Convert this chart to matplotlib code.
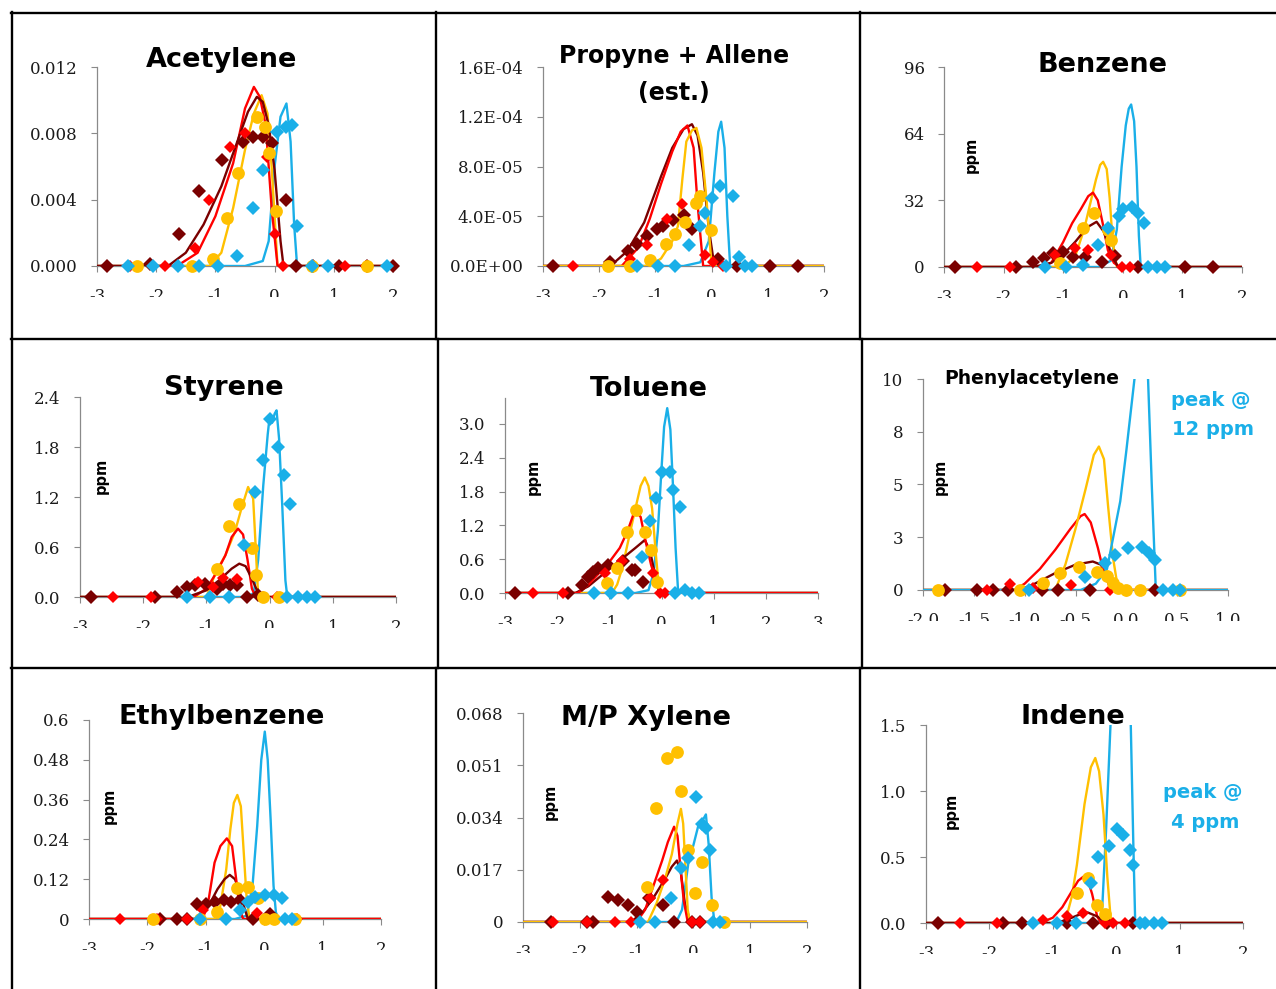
import matplotlib
matplotlib.use('Agg')
import matplotlib.pyplot as plt
from matplotlib.lines import Line2D
from matplotlib.transforms import Bbox

plt.rcParams['axes.unicode_minus'] = False

# ---------------- DATA ----------------
# Acetylene
ace_dr_lx = [-3, -1.8, -1.5, -1.2, -0.9, -0.6, -0.45, -0.3, -0.2, -0.1, 0.0, 0.1, 0.15, 2]
ace_dr_ly = [0, 0, 0.0008, 0.0025, 0.0048, 0.0078, 0.0093, 0.0102, 0.0099, 0.0085, 0.0058, 0.0015, 0, 0]
ace_rd_lx = [-3, -1.65, -1.3, -1.0, -0.7, -0.5, -0.35, -0.25, -0.15, -0.05, 0.05, 2]
ace_rd_ly = [0, 0, 0.0008, 0.0030, 0.0062, 0.0095, 0.0108, 0.0102, 0.0085, 0.0035, 0, 0]
ace_gd_lx = [-3, -1.1, -0.9, -0.7, -0.5, -0.35, -0.22, -0.12, -0.05, 0.05, 2]
ace_gd_ly = [0, 0, 0.0008, 0.0035, 0.0070, 0.0092, 0.0103, 0.0092, 0.0060, 0, 0]
ace_bl_lx = [-3, -0.5, -0.2, -0.1, 0.0, 0.1, 0.2, 0.27, 0.33, 0.38, 2]
ace_bl_ly = [0, 0, 0.0003, 0.0015, 0.0060, 0.0090, 0.0098, 0.0075, 0.0025, 0, 0]
ace_dr_mx = [-2.83, -2.10, -1.61, -1.27, -0.89, -0.53, -0.36, -0.19, -0.05, 0.19, 0.36, 0.65, 1.08, 1.56, 2.0]
ace_dr_my = [0, 0.0001, 0.0019, 0.0045, 0.0064, 0.0075, 0.0078, 0.0078, 0.0074, 0.0040, 0, 0, 0, 0, 0]
ace_rd_mx = [-2.44, -1.85, -1.34, -1.10, -0.75, -0.50, -0.13, 0.0, 0.15, 0.63, 0.91, 1.19, 1.54]
ace_rd_my = [0, 0, 0.0011, 0.0040, 0.0072, 0.0080, 0.0066, 0.0019, 0, 0, 0, 0, 0]
ace_gd_mx = [-2.33, -1.40, -1.04, -0.80, -0.62, -0.30, -0.16, -0.09, 0.02, 0.63, 1.56]
ace_gd_my = [0, 0, 0.0004, 0.0029, 0.0056, 0.0090, 0.0084, 0.0068, 0.0033, 0, 0]
ace_bl_mx = [-2.47, -2.05, -1.63, -1.27, -0.95, -0.64, -0.36, -0.19, 0.04, 0.20, 0.30, 0.37, 0.63, 0.91, 1.9]
ace_bl_my = [0, 0, 0, 0, 0, 0.0006, 0.0035, 0.0058, 0.0081, 0.0084, 0.0085, 0.0024, 0, 0, 0]

# Propyne + Allene
pro_dr_lx = [-3, -1.8, -1.5, -1.2, -0.9, -0.7, -0.5, -0.35, -0.25, -0.15, -0.05, 0.05, 2]
pro_dr_ly = [0, 0, 0.12e-4, 0.35e-4, 0.72e-4, 0.95e-4, 1.10e-4, 1.14e-4, 1.05e-4, 0.75e-4, 0.30e-4, 0, 0]
pro_rd_lx = [-3, -1.6, -1.3, -1.1, -0.9, -0.7, -0.55, -0.43, -0.32, -0.25, -0.15, 2]
pro_rd_ly = [0, 0, 0.15e-4, 0.38e-4, 0.66e-4, 0.92e-4, 1.08e-4, 1.13e-4, 0.95e-4, 0.5e-4, 0, 0]
pro_gd_lx = [-3, -1.1, -0.9, -0.7, -0.6, -0.52, -0.45, -0.35, -0.27, -0.18, -0.09, 0.0, 2]
pro_gd_ly = [0, 0, 0.06e-4, 0.2e-4, 0.32e-4, 0.7e-4, 1.0e-4, 1.09e-4, 1.11e-4, 0.95e-4, 0.53e-4, 0, 0]
pro_bl_lx = [-3, -0.5, -0.2, -0.05, 0.05, 0.12, 0.17, 0.23, 0.28, 0.33, 2]
pro_bl_ly = [0, 0, 0.03e-4, 0.2e-4, 0.75e-4, 1.08e-4, 1.16e-4, 0.95e-4, 0.4e-4, 0, 0]
pro_dr_mx = [-2.83, -1.81, -1.48, -1.33, -1.15, -0.98, -0.86, -0.68, -0.50, -0.35, 0.12, 0.45, 1.04, 1.54]
pro_dr_my = [0, 0.035e-4, 0.12e-4, 0.18e-4, 0.24e-4, 0.30e-4, 0.32e-4, 0.37e-4, 0.41e-4, 0.30e-4, 0.06e-4, 0, 0, 0]
pro_rd_mx = [-2.46, -1.45, -1.15, -0.80, -0.53, -0.12, 0.03, 0.21]
pro_rd_my = [0, 0.06e-4, 0.17e-4, 0.38e-4, 0.50e-4, 0.09e-4, 0.035e-4, 0]
pro_gd_mx = [-1.84, -1.45, -1.10, -0.81, -0.65, -0.47, -0.27, -0.21, -0.01]
pro_gd_my = [0, 0, 0.05e-4, 0.18e-4, 0.26e-4, 0.35e-4, 0.51e-4, 0.56e-4, 0.29e-4]
pro_bl_mx = [-1.32, -0.95, -0.65, -0.41, -0.21, -0.12, 0.0, 0.15, 0.26, 0.38, 0.48, 0.59, 0.71]
pro_bl_my = [0, 0, 0, 0.17e-4, 0.32e-4, 0.43e-4, 0.55e-4, 0.64e-4, 0, 0.56e-4, 0.075e-4, 0, 0]

# Benzene
ben_dr_lx = [-3, -1.5, -1.2, -1.0, -0.8, -0.6, -0.44, -0.32, -0.2, -0.08, 2]
ben_dr_ly = [0, 0, 2, 6, 12, 19, 21.7, 17, 7, 0, 0]
ben_rd_lx = [-3, -1.4, -1.2, -1.0, -0.85, -0.7, -0.58, -0.5, -0.42, -0.33, -0.25, -0.15, -0.05, 2]
ben_rd_ly = [0, 0, 2, 12, 21, 28, 34, 35.7, 32, 20, 8, 2, 0, 0]
ben_gd_lx = [-3, -1.0, -0.8, -0.65, -0.55, -0.45, -0.38, -0.33, -0.27, -0.22, -0.17, -0.1, 2]
ben_gd_ly = [0, 0, 5, 18, 30, 42, 49, 50.5, 47, 33, 12, 0, 0]
ben_bl_lx = [-3, -0.4, -0.2, -0.1, -0.02, 0.05, 0.10, 0.14, 0.19, 0.23, 0.27, 0.30, 2]
ben_bl_ly = [0, 0, 3, 18, 48, 68, 76, 78, 70, 48, 15, 0, 0]
ben_dr_mx = [-2.82, -1.80, -1.50, -1.33, -1.17, -1.0, -0.83, -0.63, -0.35, -0.13, 0.26, 1.04, 1.52]
ben_dr_my = [0, 0, 2.5, 4.2, 6.6, 7.4, 4.9, 4.9, 2.5, 5.3, 0, 0, 0]
ben_rd_mx = [-2.45, -1.89, -1.14, -0.80, -0.58, -0.19, -0.02, 0.12]
ben_rd_my = [0, 0, 5.8, 9.0, 8.2, 5.8, 0, 0]
ben_gd_mx = [-1.05, -0.66, -0.48, -0.25, -0.19]
ben_gd_my = [1.8, 18.9, 25.8, 17.8, 13.0]
ben_bl_mx = [-1.31, -0.96, -0.66, -0.41, -0.24, -0.07, 0.01, 0.15, 0.26, 0.36, 0.43, 0.57, 0.71]
ben_bl_my = [0, 0, 1, 10.6, 18.6, 24.5, 27.7, 28.6, 25.8, 21.3, 0, 0, 0]

# Styrene
sty_dr_lx = [-3, -1.3, -1.0, -0.8, -0.6, -0.48, -0.38, -0.28, -0.2, -0.12, 2]
sty_dr_ly = [0, 0, 0.08, 0.2, 0.34, 0.40, 0.37, 0.22, 0.08, 0, 0]
sty_rd_lx = [-3, -1.2, -1.0, -0.85, -0.7, -0.6, -0.5, -0.42, -0.35, -0.28, -0.22, 2]
sty_rd_ly = [0, 0, 0.1, 0.28, 0.5, 0.72, 0.82, 0.75, 0.45, 0.1, 0, 0]
sty_gd_lx = [-3, -1.0, -0.85, -0.7, -0.55, -0.45, -0.34, -0.26, -0.22, -0.18, 2]
sty_gd_ly = [0, 0, 0.3, 0.5, 0.78, 1.05, 1.32, 1.18, 0.6, 0, 0]
sty_bl_lx = [-3, -0.35, -0.25, -0.18, -0.1, -0.03, 0.0, 0.04, 0.08, 0.11, 0.15, 0.2, 0.25, 0.28, 2]
sty_bl_ly = [0, 0, 0.05, 0.45, 1.34, 1.95, 2.16, 2.09, 2.2, 2.24, 1.9, 1.1, 0.2, 0, 0]
sty_dr_mx = [-2.82, -1.81, -1.47, -1.31, -1.18, -1.02, -0.84, -0.73, -0.63, -0.52, -0.36, -0.18]
sty_dr_my = [0, 0, 0.064, 0.12, 0.14, 0.16, 0.10, 0.16, 0.14, 0.14, 0, 0.02]
sty_rd_mx = [-2.47, -1.87, -1.13, -0.89, -0.74, -0.52, -0.10, 0.11]
sty_rd_my = [0, 0, 0.18, 0.12, 0.23, 0.22, 0, 0]
sty_gd_mx = [-0.83, -0.65, -0.48, -0.28, -0.22, -0.10, 0.15]
sty_gd_my = [0.34, 0.85, 1.12, 0.59, 0.27, 0, 0]
sty_bl_mx = [-1.31, -0.95, -0.65, -0.41, -0.23, -0.10, 0.01, 0.14, 0.22, 0.33, 0.27, 0.45, 0.59, 0.72]
sty_bl_my = [0, 0, 0, 0.62, 1.26, 1.64, 2.14, 1.80, 1.46, 1.12, 0, 0, 0, 0]

# Toluene
tol_dr_lx = [-3, -1.65, -1.4, -1.1, -0.9, -0.7, -0.5, -0.32, -0.22, -0.12, -0.04, 3]
tol_dr_ly = [0, 0, 0.12, 0.35, 0.5, 0.65, 0.8, 0.94, 0.75, 0.3, 0, 0]
tol_rd_lx = [-3, -1.6, -1.4, -1.2, -1.0, -0.8, -0.65, -0.51, -0.4, -0.3, -0.2, -0.1, 0.0, 3]
tol_rd_ly = [0, 0, 0.15, 0.35, 0.55, 0.8, 1.1, 1.47, 1.35, 0.9, 0.5, 0.2, 0, 0]
tol_gd_lx = [-3, -0.95, -0.85, -0.75, -0.62, -0.5, -0.4, -0.32, -0.25, -0.18, -0.1, -0.04, 3]
tol_gd_ly = [0, 0, 0.15, 0.45, 1.0, 1.5, 1.9, 2.05, 1.9, 1.5, 0.6, 0, 0]
tol_bl_lx = [-3, -0.5, -0.25, -0.15, -0.07, 0.0, 0.05, 0.11, 0.17, 0.22, 0.27, 0.32, 3]
tol_bl_ly = [0, 0, 0.05, 0.35, 1.1, 2.2, 2.95, 3.28, 2.9, 1.9, 0.8, 0, 0]
tol_dr_mx = [-2.81, -1.79, -1.53, -1.40, -1.31, -1.21, -1.02, -0.73, -0.57, -0.51, -0.35]
tol_dr_my = [0, 0, 0.14, 0.29, 0.38, 0.44, 0.50, 0.56, 0.41, 0.41, 0.20]
tol_rd_mx = [-2.46, -1.88, -1.08, -0.76, -0.16, -0.03, 0.07]
tol_rd_my = [0, 0, 0.35, 0.56, 0.35, 0, 0]
tol_gd_mx = [-1.05, -0.86, -0.67, -0.49, -0.32, -0.20, -0.09]
tol_gd_my = [0.17, 0.44, 1.09, 1.47, 1.09, 0.76, 0.20]
tol_bl_mx = [-1.29, -0.96, -0.65, -0.38, -0.22, -0.11, 0.0, 0.16, 0.22, 0.35, 0.26, 0.45, 0.58, 0.72]
tol_bl_my = [0, 0, 0, 0.63, 1.27, 1.68, 2.15, 2.15, 1.83, 1.53, 0, 0.05, 0, 0]

# Phenylacetylene
phe_dr_lx = [-2, -1.05, -0.9, -0.7, -0.5, -0.33, -0.25, -0.18, -0.12, 1]
phe_dr_ly = [0, 0, 0.3, 0.8, 1.2, 1.35, 1.2, 0.5, 0, 0]
phe_rd_lx = [-2, -1.1, -1.0, -0.85, -0.7, -0.55, -0.45, -0.41, -0.35, -0.28, -0.22, -0.15, 1]
phe_rd_ly = [0, 0, 0.3, 1.0, 1.9, 2.9, 3.5, 3.6, 3.2, 2.0, 0.8, 0, 0]
phe_gd_lx = [-2, -0.7, -0.6, -0.5, -0.4, -0.32, -0.27, -0.22, -0.18, -0.13, -0.08, 1]
phe_gd_ly = [0, 0, 1.2, 2.9, 4.8, 6.4, 6.8, 6.2, 4.0, 1.5, 0, 0]
phe_bl_lx = [-2, -0.45, -0.3, -0.19, -0.06, 0.0, 0.08, 0.15, 0.21, 0.25, 0.29, 1.0]
phe_bl_ly = [0, 0, 0.3, 1.0, 4.2, 6.6, 10.0, 12, 10.5, 5, 0, 0]
phe_dr_mx = [-1.78, -1.47, -1.31, -1.16, -0.83, -0.67, -0.36, 0.28]
phe_dr_my = [0, 0, 0, 0, 0, 0, 0, 0]
phe_rd_mx = [-1.37, -1.14, -0.92, -0.54, -0.16]
phe_rd_my = [0, 0.27, 0.1, 0.24, 0]
phe_gd_mx = [-1.85, -1.05, -0.82, -0.65, -0.47, -0.29, -0.19, -0.13, -0.08, 0.0, 0.13, 0.53]
phe_gd_my = [0, 0, 0.32, 0.79, 1.1, 0.87, 0.68, 0.32, 0.08, 0, 0, 0]
phe_bl_mx = [-0.96, -0.41, -0.21, -0.11, 0.02, 0.15, 0.22, 0.28, 0.36, 0.46, 0.53]
phe_bl_my = [0, 0.63, 1.26, 1.66, 1.97, 2.02, 1.74, 1.42, 0, 0, 0]

# Ethylbenzene
eth_dr_lx = [-3, -1.1, -0.95, -0.8, -0.68, -0.59, -0.5, -0.42, -0.35, -0.28, 2]
eth_dr_ly = [0, 0, 0.04, 0.09, 0.12, 0.133, 0.12, 0.08, 0.04, 0, 0]
eth_rd_lx = [-3, -1.05, -0.95, -0.85, -0.75, -0.64, -0.55, -0.48, -0.42, -0.36, 2]
eth_rd_ly = [0, 0, 0.06, 0.17, 0.22, 0.243, 0.22, 0.12, 0.03, 0, 0]
eth_gd_lx = [-3, -0.85, -0.75, -0.65, -0.58, -0.52, -0.46, -0.4, -0.35, -0.3, -0.25, 2]
eth_gd_ly = [0, 0, 0.04, 0.15, 0.27, 0.35, 0.374, 0.34, 0.2, 0.06, 0, 0]
eth_bl_lx = [-3, -0.5, -0.3, -0.2, -0.12, -0.05, 0.01, 0.06, 0.11, 0.16, 0.2, 0.25, 2]
eth_bl_ly = [0, 0, 0.01, 0.1, 0.28, 0.48, 0.565, 0.48, 0.3, 0.1, 0.02, 0, 0]
eth_dr_mx = [-1.78, -1.50, -1.32, -1.15, -1.0, -0.84, -0.69, -0.56, -0.41, -0.19, 0.10]
eth_dr_my = [0, 0, 0, 0.045, 0.045, 0.052, 0.057, 0.05, 0.057, 0, 0.014]
eth_rd_mx = [-2.47, -1.84, -1.33, -1.04, -0.13, 0.04, 0.56]
eth_rd_my = [0, 0, 0, 0.027, 0.017, 0, 0]
eth_gd_mx = [-1.90, -1.10, -0.81, -0.47, -0.27, -0.10, 0.01, 0.16, 0.53]
eth_gd_my = [0, 0, 0.022, 0.093, 0.097, 0.062, 0, 0, 0]
eth_bl_mx = [-1.10, -0.65, -0.41, -0.27, -0.16, 0.01, 0.16, 0.30, 0.36, 0.47]
eth_bl_my = [0, 0, 0.027, 0.05, 0.067, 0.072, 0.072, 0.062, 0, 0]

# M/P Xylene
xyl_dr_lx = [-3, -1.1, -0.9, -0.7, -0.5, -0.38, -0.29, -0.22, -0.15, -0.05, 2]
xyl_dr_ly = [0, 0, 0.003, 0.008, 0.014, 0.018, 0.020, 0.016, 0.006, 0, 0]
xyl_rd_lx = [-3, -1.0, -0.85, -0.7, -0.55, -0.45, -0.34, -0.28, -0.22, -0.17, -0.1, 2]
xyl_rd_ly = [0, 0, 0.004, 0.012, 0.02, 0.026, 0.031, 0.028, 0.016, 0.007, 0, 0]
xyl_gd_lx = [-3, -0.8, -0.65, -0.5, -0.38, -0.28, -0.22, -0.18, -0.14, -0.1, -0.06, 2]
xyl_gd_ly = [0, 0, 0.006, 0.014, 0.022, 0.032, 0.0368, 0.032, 0.018, 0.004, 0, 0]
xyl_bl_lx = [-3, -0.3, -0.2, -0.09, 0.0, 0.09, 0.16, 0.22, 0.27, 0.32, 0.37, 2]
xyl_bl_ly = [0, 0, 0.004, 0.019, 0.025, 0.0316, 0.033, 0.035, 0.025, 0.008, 0, 0]
xyl_dr_mx = [-2.50, -1.88, -1.76, -1.50, -1.32, -1.15, -1.0, -0.79, -0.53, -0.35, -0.03, 0.12]
xyl_dr_my = [0, 0, 0, 0.0082, 0.0072, 0.0055, 0.0034, 0.0077, 0.0055, 0, 0, 0]
xyl_rd_mx = [-2.47, -1.88, -1.38, -1.09, -0.76, -0.53, -0.03, 0.12]
xyl_rd_my = [0, 0, 0, 0, 0.0077, 0.0137, 0, 0]
xyl_gd_mx = [-0.82, -0.65, -0.46, -0.28, -0.21, -0.09, 0.02, 0.15, 0.32, 0.53]
xyl_gd_my = [0.0115, 0.0372, 0.0535, 0.0552, 0.0426, 0.0234, 0.0093, 0.0196, 0.0055, 0]
xyl_bl_mx = [-0.94, -0.68, -0.39, -0.22, -0.09, 0.04, 0.15, 0.23, 0.29, 0.35, 0.47]
xyl_bl_my = [0, 0, 0.0077, 0.0177, 0.0209, 0.0408, 0.0318, 0.0305, 0.0234, 0, 0]

# Indene
ind_dr_lx = [-3, -1.0, -0.8, -0.6, -0.45, -0.3, -0.15, 2]
ind_dr_ly = [0, 0, 0.02, 0.06, 0.08, 0.05, 0, 0]
ind_rd_lx = [-3, -1.2, -1.0, -0.85, -0.7, -0.6, -0.52, -0.45, -0.38, -0.3, -0.24, 2]
ind_rd_ly = [0, 0, 0.04, 0.12, 0.24, 0.32, 0.35, 0.33, 0.22, 0.05, 0, 0]
ind_gd_lx = [-3, -0.81, -0.7, -0.62, -0.5, -0.4, -0.33, -0.27, -0.2, -0.14, -0.09, -0.06, 2]
ind_gd_ly = [0, 0, 0.2, 0.44, 0.9, 1.18, 1.25, 1.15, 0.82, 0.35, 0.05, 0, 0]
ind_bl_lx = [-3, -0.35, -0.23, -0.16, -0.09, 0.07, 0.23, 0.27, 0.30, 2]
ind_bl_ly = [0, 0, 0.02, 0.7, 1.5, 4.0, 1.5, 0.6, 0, 0]
ind_dr_mx = [-2.81, -1.78, -1.49, -0.78, -0.36, -0.15, 0.27]
ind_dr_my = [0, 0, 0, 0, 0, 0, 0]
ind_rd_mx = [-2.46, -1.88, -1.15, -0.78, -0.52, -0.18, -0.05, 0.14]
ind_rd_my = [0, 0, 0.02, 0.055, 0.073, 0, 0, 0]
ind_gd_mx = [-0.62, -0.45, -0.30, -0.18]
ind_gd_my = [0.23, 0.34, 0.14, 0.07]
ind_bl_mx = [-1.31, -0.94, -0.63, -0.39, -0.28, -0.11, 0.01, 0.11, 0.21, 0.27, 0.38, 0.45, 0.59, 0.72]
ind_bl_my = [0, 0, 0, 0.30, 0.50, 0.58, 0.71, 0.67, 0.55, 0.44, 0, 0, 0, 0]

# Tick values / labels
ace_yticks = [0, 0.004, 0.008, 0.012]
ace_ylabels = ['0.000', '0.004', '0.008', '0.012']
pro_yticks = [0, 4e-5, 8e-5, 1.2e-4, 1.6e-4]
pro_ylabels = ['0.0E+00', '4.0E-05', '8.0E-05', '1.2E-04', '1.6E-04']
ben_yticks = [0, 32, 64, 96]
ben_ylabels = ['0', '32', '64', '96']
sty_yticks = [0, 0.6, 1.2, 1.8, 2.4]
sty_ylabels = ['0.0', '0.6', '1.2', '1.8', '2.4']
tol_yticks = [0, 0.6, 1.2, 1.8, 2.4, 3.0]
tol_ylabels = ['0.0', '0.6', '1.2', '1.8', '2.4', '3.0']
phe_yticks = [0, 2.5, 5, 7.5, 10]
phe_ylabels = ['0', '3', '5', '8', '10']
eth_yticks = [0, 0.12, 0.24, 0.36, 0.48, 0.6]
eth_ylabels = ['0', '0.12', '0.24', '0.36', '0.48', '0.6']
xyl_yticks = [0, 0.017, 0.034, 0.051, 0.068]
xyl_ylabels = ['0', '0.017', '0.034', '0.051', '0.068']
ind_yticks = [0, 0.5, 1.0, 1.5]
ind_ylabels = ['0.0', '0.5', '1.0', '1.5']

x5_ticks = [-3, -2, -1, 0, 1, 2]
x5_labels = ['-3', '-2', '-1', '0', '1', '2']
x6_ticks = [-3, -2, -1, 0, 1, 2, 3]
x6_labels = ['-3', '-2', '-1', '0', '1', '2', '3']
phe_xticks = [-2.0, -1.5, -1.0, -0.5, 0.0, 0.5, 1.0]
phe_xlabels = ['-2.0', '-1.5', '-1.0', '-0.5', '0.0', '0.5', '1.0']

# ---------------- FIGURE ----------------
W, H = 1276, 989
fig = plt.figure(figsize=(W / 100, H / 100), dpi=100)

COL = {'dr': '#7A0000', 'rd': '#FF0000', 'gd': '#FFC000', 'bl': '#1AAFE8'}
MRK = {'dr': ('D', 7.2), 'rd': ('D', 6.4), 'gd': ('o', 9.2), 'bl': ('D', 7.2)}
AXCOL = '#8A8A8A'
TITLE_FONT = 'DejaVu Sans'
TICK_FONT = 'DejaVu Serif'


def fx(px):
    return px / W


def fy(py):
    return 1 - py / H


def panel(box, xlim, ylim, xticks, xlabels, yticks, ylabels, lines, marks, line_order):
    x0, x1, ytop, ybot = box
    ax = fig.add_axes([fx(x0), fy(ybot), fx(x1) - fx(x0), fy(ytop) - fy(ybot)])
    ax.set_xlim(*xlim)
    ax.set_ylim(*ylim)
    ax.patch.set_alpha(0)
    for s in ('top', 'right'):
        ax.spines[s].set_visible(False)
    for s in ('left', 'bottom'):
        ax.spines[s].set_color(AXCOL)
        ax.spines[s].set_linewidth(0.9)
    ax.set_xticks(xticks, labels=xlabels)
    ax.set_yticks(yticks, labels=ylabels)
    ax.tick_params(axis='both', direction='out', length=4, width=0.8, color=AXCOL,
                   labelsize=12, labelcolor='#1a1a1a')
    ax.tick_params(axis='y', pad=10)
    ax.tick_params(axis='x', pad=12)
    for lbl in ax.get_xticklabels() + ax.get_yticklabels():
        lbl.set_fontfamily(TICK_FONT)
    clip_y = ybot + 31
    cb = Bbox([[x0 - 60, H - clip_y], [x1 + 60, H - ybot]])
    for lbl in ax.get_xticklabels():
        lbl.set_clip_box(cb)
        lbl.set_clip_on(True)
    for i, k in enumerate(line_order):
        lx, ly = lines[k]
        ax.plot(lx, ly, color=COL[k], lw=1.7, zorder=3 + 0.1 * i, solid_joinstyle='round')
    for i, k in enumerate(['dr', 'rd', 'gd', 'bl']):
        mx, my = marks[k]
        m, ms = MRK[k]
        ax.plot(mx, my, linestyle='none', marker=m, ms=ms, color=COL[k],
                markeredgewidth=0, clip_on=False, zorder=5 + 0.1 * i)
    return ax


# Acetylene
panel((97, 393, 67, 266), (-3, 2), (0, 0.012), x5_ticks, x5_labels, ace_yticks, ace_ylabels,
      {'dr': (ace_dr_lx, ace_dr_ly), 'rd': (ace_rd_lx, ace_rd_ly), 'gd': (ace_gd_lx, ace_gd_ly), 'bl': (ace_bl_lx, ace_bl_ly)},
      {'dr': (ace_dr_mx, ace_dr_my), 'rd': (ace_rd_mx, ace_rd_my), 'gd': (ace_gd_mx, ace_gd_my), 'bl': (ace_bl_mx, ace_bl_my)},
      ['bl', 'gd', 'rd', 'dr'])
# Propyne + Allene
panel((543, 824, 67, 266), (-3, 2), (0, 1.6e-4), x5_ticks, x5_labels, pro_yticks, pro_ylabels,
      {'dr': (pro_dr_lx, pro_dr_ly), 'rd': (pro_rd_lx, pro_rd_ly), 'gd': (pro_gd_lx, pro_gd_ly), 'bl': (pro_bl_lx, pro_bl_ly)},
      {'dr': (pro_dr_mx, pro_dr_my), 'rd': (pro_rd_mx, pro_rd_my), 'gd': (pro_gd_mx, pro_gd_my), 'bl': (pro_bl_mx, pro_bl_my)},
      ['bl', 'dr', 'rd', 'gd'])
# Benzene
panel((944, 1242, 67, 267), (-3, 2), (0, 96), x5_ticks, x5_labels, ben_yticks, ben_ylabels,
      {'dr': (ben_dr_lx, ben_dr_ly), 'rd': (ben_rd_lx, ben_rd_ly), 'gd': (ben_gd_lx, ben_gd_ly), 'bl': (ben_bl_lx, ben_bl_ly)},
      {'dr': (ben_dr_mx, ben_dr_my), 'rd': (ben_rd_mx, ben_rd_my), 'gd': (ben_gd_mx, ben_gd_my), 'bl': (ben_bl_mx, ben_bl_my)},
      ['bl', 'gd', 'rd', 'dr'])
# Styrene
panel((80, 396, 397, 597), (-3, 2), (0, 2.4), x5_ticks, x5_labels, sty_yticks, sty_ylabels,
      {'dr': (sty_dr_lx, sty_dr_ly), 'rd': (sty_rd_lx, sty_rd_ly), 'gd': (sty_gd_lx, sty_gd_ly), 'bl': (sty_bl_lx, sty_bl_ly)},
      {'dr': (sty_dr_mx, sty_dr_my), 'rd': (sty_rd_mx, sty_rd_my), 'gd': (sty_gd_mx, sty_gd_my), 'bl': (sty_bl_mx, sty_bl_my)},
      ['bl', 'gd', 'rd', 'dr'])
# Toluene
panel((505, 818, 398, 593), (-3, 3), (0, 3.46), x6_ticks, x6_labels, tol_yticks, tol_ylabels,
      {'dr': (tol_dr_lx, tol_dr_ly), 'rd': (tol_rd_lx, tol_rd_ly), 'gd': (tol_gd_lx, tol_gd_ly), 'bl': (tol_bl_lx, tol_bl_ly)},
      {'dr': (tol_dr_mx, tol_dr_my), 'rd': (tol_rd_mx, tol_rd_my), 'gd': (tol_gd_mx, tol_gd_my), 'bl': (tol_bl_mx, tol_bl_my)},
      ['bl', 'gd', 'dr', 'rd'])
# Phenylacetylene
panel((923, 1228, 379, 590), (-2, 1), (0, 10), phe_xticks, phe_xlabels, phe_yticks, phe_ylabels,
      {'dr': (phe_dr_lx, phe_dr_ly), 'rd': (phe_rd_lx, phe_rd_ly), 'gd': (phe_gd_lx, phe_gd_ly), 'bl': (phe_bl_lx, phe_bl_ly)},
      {'dr': (phe_dr_mx, phe_dr_my), 'rd': (phe_rd_mx, phe_rd_my), 'gd': (phe_gd_mx, phe_gd_my), 'bl': (phe_bl_mx, phe_bl_my)},
      ['dr', 'rd', 'gd', 'bl'])
# Ethylbenzene
panel((89, 381, 720, 919), (-3, 2), (0, 0.6), x5_ticks, x5_labels, eth_yticks, eth_ylabels,
      {'dr': (eth_dr_lx, eth_dr_ly), 'rd': (eth_rd_lx, eth_rd_ly), 'gd': (eth_gd_lx, eth_gd_ly), 'bl': (eth_bl_lx, eth_bl_ly)},
      {'dr': (eth_dr_mx, eth_dr_my), 'rd': (eth_rd_mx, eth_rd_my), 'gd': (eth_gd_mx, eth_gd_my), 'bl': (eth_bl_mx, eth_bl_my)},
      ['bl', 'gd', 'dr', 'rd'])
# M/P Xylene
panel((523, 807, 713, 922), (-3, 2), (0, 0.068), x5_ticks, x5_labels, xyl_yticks, xyl_ylabels,
      {'dr': (xyl_dr_lx, xyl_dr_ly), 'rd': (xyl_rd_lx, xyl_rd_ly), 'gd': (xyl_gd_lx, xyl_gd_ly), 'bl': (xyl_bl_lx, xyl_bl_ly)},
      {'dr': (xyl_dr_mx, xyl_dr_my), 'rd': (xyl_rd_mx, xyl_rd_my), 'gd': (xyl_gd_mx, xyl_gd_my), 'bl': (xyl_bl_mx, xyl_bl_my)},
      ['bl', 'dr', 'rd', 'gd'])
# Indene
panel((926, 1243, 725, 923), (-3, 2), (0, 1.5), x5_ticks, x5_labels, ind_yticks, ind_ylabels,
      {'dr': (ind_dr_lx, ind_dr_ly), 'rd': (ind_rd_lx, ind_rd_ly), 'gd': (ind_gd_lx, ind_gd_ly), 'bl': (ind_bl_lx, ind_bl_ly)},
      {'dr': (ind_dr_mx, ind_dr_my), 'rd': (ind_rd_mx, ind_rd_my), 'gd': (ind_gd_mx, ind_gd_my), 'bl': (ind_bl_mx, ind_bl_my)},
      ['bl', 'gd', 'rd', 'dr'])

# ---------------- TEXT ----------------
titles = [("Acetylene", 222, 67, 19.5), ("Propyne + Allene", 674, 63, 17), ("(est.)", 674, 100, 17),
          ("Benzene", 1103, 72, 19.5), ("Styrene", 224, 395, 19.5), ("Toluene", 649, 396, 19.5),
          ("Phenylacetylene", 1032, 384, 13.5), ("Ethylbenzene", 222, 724, 19.5),
          ("M/P Xylene", 646, 725, 19.5), ("Indene", 1073, 724, 19.5)]
for t, cx, by, fs in titles:
    fig.text(fx(cx), fy(by), t, ha='center', va='baseline', fontsize=fs,
             fontweight='bold', family=TITLE_FONT, color='black')

notes = [("peak @", 1211, 406), ("12 ppm", 1213, 435), ("peak @", 1203, 798), ("4 ppm", 1205, 828)]
for t, cx, by in notes:
    fig.text(fx(cx), fy(by), t, ha='center', va='baseline', fontsize=14,
             fontweight='bold', family=TITLE_FONT, color=COL['bl'])

ppm_pos = [(971, 155), (101, 476), (533, 477), (940, 477), (109, 806), (550, 802), (951, 811)]
for cx, cy in ppm_pos:
    fig.text(fx(cx), fy(cy), "ppm", ha='center', va='center', rotation=90, fontsize=10.5,
             fontweight='bold', family=TITLE_FONT, color='black')

# ---------------- BORDERS ----------------
segs = [((11, 1276), (12.5, 12.5)), ((11.5, 11.5), (12, 989)),
        ((11, 1276), (339.5, 339.5)), ((11, 1276), (667.5, 667.5)),
        ((435.5, 435.5), (12, 339.5)), ((859.5, 859.5), (12, 339.5)),
        ((438, 438), (339.5, 667.5)), ((862, 862), (339.5, 667.5)),
        ((435.5, 435.5), (667.5, 989)), ((859.5, 859.5), (667.5, 989))]
for (xa, xb), (ya, yb) in segs:
    fig.add_artist(Line2D([fx(xa), fx(xb)], [fy(ya), fy(yb)], transform=fig.transFigure,
                          color='black', lw=1.7, solid_capstyle='projecting'))

fig.savefig('out.png', dpi=100)
